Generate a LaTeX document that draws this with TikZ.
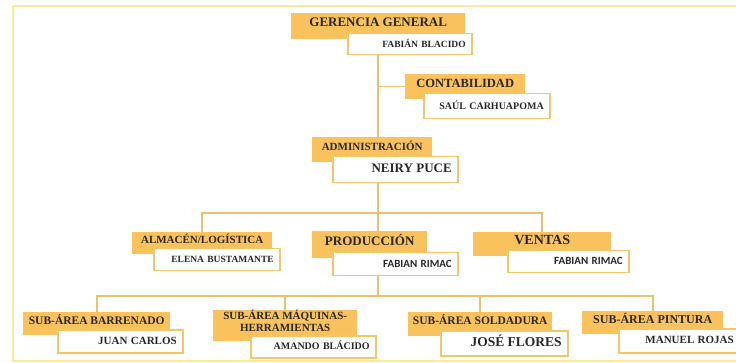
\documentclass[tikz,border=0pt]{standalone}
\usepackage{fontspec}
\setmainfont{Liberation Serif}
\newfontfamily\calfont{Carlito}
\definecolor{naranja}{RGB}{249,194,92}
\definecolor{borde}{RGB}{244,198,108}
\definecolor{linea}{RGB}{234,194,108}
\definecolor{marco}{RGB}{250,233,150}
\definecolor{tinta}{RGB}{40,40,40}
\newcommand{\tam}[1]{\fontsize{#1}{#1}\selectfont\bfseries}
\begin{document}
\begin{tikzpicture}[x=1pt,y=-1pt,
  cargo/.style={fill=naranja, anchor=north west, inner sep=0pt, align=center,
    text height=7pt, text depth=6pt, text=tinta},
  nombre/.style={draw=borde, fill=white, line width=1.5pt, anchor=north west,
    inner ysep=0pt, inner xsep=6pt, text width=#1, align=right,
    text height=6pt, text depth=0pt, text=tinta},
  conector/.style={draw=linea, line width=1.6pt}]
  \useasboundingbox (0,0) rectangle (736,363);
  \draw [marco, line width=1.6pt] (13,6) rectangle (760,361);

  % gerencia y contabilidad
  \node [cargo, minimum width=174, minimum height=26] (ger) at (291,13) {\tam{13}GERENCIA GENERAL};
  \node [nombre=112pt, minimum height=21] (gerN) at (347,33) {\tam{9.5}FABIÁN BLACIDO};
  \node [cargo, minimum width=120, minimum height=25] (con) at (405,74) {\tam{12.5}CONTABILIDAD};
  \node [nombre=114pt, minimum height=25] (conN) at (423,93) {\tam{10}SAÚL CARHUAPOMA};

  % administracion
  \node [cargo, minimum width=120, minimum height=25] (adm) at (312,137) {\tam{11}ADMINISTRACIÓN};
  \node [nombre=113pt, minimum height=26] (admN) at (332,156) {\tam{13}NEIRY PUCE};

  % areas
  \node [cargo, minimum width=140, minimum height=22] (alm) at (132,232) {\tam{11}ALMACÉN/LOGÍSTICA};
  \node [nombre=114pt, minimum height=22] (almN) at (153,248) {\tam{9.5}ELENA BUSTAMANTE};
  \node [cargo, minimum width=115, minimum height=27] (pro) at (312,231) {\tam{13}PRODUCCIÓN};
  \node [nombre=113pt, minimum height=23] (proN) at (332,252) {\calfont\tam{11}FABIAN RIMAC};
  \node [cargo, minimum width=138, minimum height=24] (ven) at (473,232) {\tam{14}VENTAS};
  \node [nombre=109pt, minimum height=22] (venN) at (507,250) {\calfont\tam{11}FABIAN RIMAC};

  % sub-areas
  \node [cargo, minimum width=147, minimum height=23] (bar) at (23,312) {\tam{11.5}SUB-ÁREA BARRENADO};
  \node [nombre=113pt, minimum height=23] (barN) at (57,329) {\tam{11}JUAN CARLOS};
  \node [cargo, minimum width=144, minimum height=31, text height={}, text depth=10pt,
    font={\fontsize{11}{11.5}\selectfont\bfseries}] (maq) at (213,310) {SUB-ÁREA MÁQUINAS-\\HERRAMIENTAS};
  \node [nombre=113pt, minimum height=22] (maqN) at (250,335) {\tam{10}AMANDO BLÁCIDO};
  \node [cargo, minimum width=144, minimum height=24] (sol) at (408,312) {\tam{11.5}SUB-ÁREA SOLDADURA};
  \node [nombre=115pt, minimum height=25] (solN) at (440,330) {\tam{13.5}JOSÉ FLORES};
  \node [cargo, minimum width=141, minimum height=23] (pin) at (582,311) {\tam{12}SUB-ÁREA PINTURA};
  \node [nombre=109pt, minimum height=24] (pinN) at (618,328) {\tam{11}MANUEL ROJAS};

  % lineas
  \coordinate (r2) at (378,213);
  \coordinate (r3) at (378,296);
  \draw [conector] (gerN.south -| ger.south) -- (ger.south |- adm.north);
  \draw [conector] (ger.south |- con.west) -- (con.west);
  \draw [conector] (admN.south -| r2) -- (r2) -- (r2 |- pro.north);
  \draw [conector] (alm.north) |- (ven.north |- r2) -- (ven.north);
  \draw [conector] (proN.south -| r3) -- (r3);
  \draw [conector] (bar.north) |- (pin.north |- r3) -- (pin.north);
  \draw [conector] (maq.north |- r3) -- (maq.north);
  \draw [conector] (sol.north |- r3) -- (sol.north);
\end{tikzpicture}
\end{document}
